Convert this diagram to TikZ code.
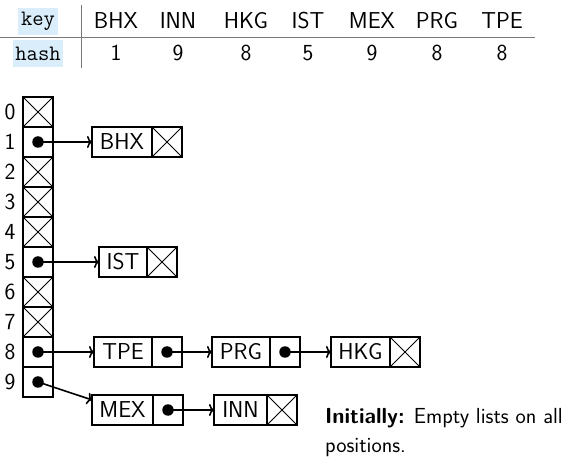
\documentclass[tikz,border=0pt]{standalone}
\usetikzlibrary{arrows.meta}
\definecolor{keyblue}{RGB}{218,237,250}
\definecolor{rulegray}{RGB}{120,120,120}
\tikzset{
  base/.style={font=\fontsize{23}{27}\selectfont\sffamily},
  cell/.style={draw, line width=1.8pt, minimum width=30pt, minimum height=30pt, inner sep=0pt, outer sep=0pt},
  label/.style={cell, base},
  nil/.style={cell, path picture={\draw[line width=1pt] (path picture bounding box.north west) -- (path picture bounding box.south east) (path picture bounding box.south west) -- (path picture bounding box.north east);}},
  ptr/.style={cell},
  dot/.style={circle, fill=black, inner sep=0pt, minimum size=11.5pt},
  link/.style={-{To[length=5pt,width=12pt]}, line width=1.6pt},
  idx/.style={base, inner sep=0pt},
  hdr/.style={base, inner sep=0pt},
  tag/.style={font=\fontsize{22}{26}\selectfont\ttfamily, fill=keyblue, inner sep=0pt},
}
\begin{document}
\begin{tikzpicture}[x=1pt,y=-1pt]
\useasboundingbox (0,0) rectangle (574,468);
% table
\node[tag, minimum width=40pt, minimum height=27pt] (key) at (38,21.5) {key};
\node[tag, minimum width=50pt, minimum height=27pt] (hash) at (38,53.5) {hash};
\coordinate (hl) at (0,38);
\coordinate (hr) at (535,38);
\coordinate (vt) at (81,5);
\coordinate (vb) at (81,68);
\draw[rulegray, line width=1pt] (hl) -- (hr);
\draw[rulegray, line width=1pt] (vt) -- (vb);
\foreach \k/\h/\x in {BHX/1/116,INN/9/178,HKG/8/246,IST/5/308,MEX/9/372,PRG/8/437,TPE/8/502}{
  \node[hdr] (k\k) at (\x,21) {\k};
  \node[hdr] (h\k) at (\x,53) {\h};
}
% array
\foreach \i in {0,...,9}{
  \node[idx] (l\i) at (10,112+30*\i) {\i};
}
\foreach \i in {0,2,3,4,6,7}{
  \node[nil] (a\i) at (38,112+30*\i) {};
}
\foreach \i in {1,5,8,9}{
  \node[ptr] (a\i) at (38,112+30*\i) {};
  \node[dot] (d\i) at (a\i.center) {};
}
% list 1
\node[label, minimum width=60pt] (bhx) at (122,142) {BHX};
\node[nil, anchor=west] (bhxn) at (bhx.east) {};
% list 5
\node[label, minimum width=48pt] (ist) at (123,262) {IST};
\node[nil, anchor=west] (istn) at (ist.east) {};
% list 8
\node[label, minimum width=58pt] (tpe) at (123,352) {TPE};
\node[ptr, anchor=west] (tpep) at (tpe.east) {};
\node[dot] (tped) at (tpep.center) {};
\node[label, minimum width=58pt] (prg) at (241,352) {PRG};
\node[ptr, anchor=west] (prgp) at (prg.east) {};
\node[dot] (prgd) at (prgp.center) {};
\node[label, minimum width=59pt] (hkg) at (360.5,352) {HKG};
\node[nil, anchor=west] (hkgn) at (hkg.east) {};
% list 9
\node[label, minimum width=61pt] (mex) at (122.5,410) {MEX};
\node[ptr, anchor=west] (mexp) at (mex.east) {};
\node[dot] (mexd) at (mexp.center) {};
\node[label, minimum width=53pt] (inn) at (240.5,410) {INN};
\node[nil, anchor=west] (innn) at (inn.east) {};
% links
\draw[link] (d1.center) -- (bhx.west);
\draw[link] (d5.center) -- (ist.west);
\draw[link] (d8.center) -- (tpe.west);
\draw[link] (tped.center) -- (prg.west);
\draw[link] (prgd.center) -- (hkg.west);
\draw[link] (d9.center) -- (mex);
\draw[link] (mexd.center) -- (inn.west);
% note
\node[anchor=base west, align=left, inner sep=0pt, font=\fontsize{21.8}{29}\selectfont\sffamily] (note) at (325,453) {\textbf{Initially:} Empty lists on all\\positions.};
\end{tikzpicture}
\end{document}
